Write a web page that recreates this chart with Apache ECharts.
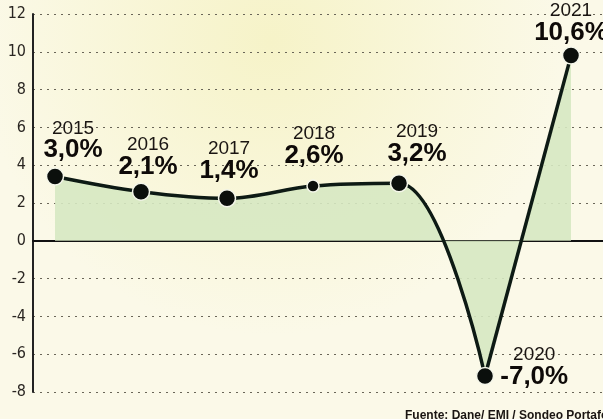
<!DOCTYPE html>
<html><head><meta charset="utf-8">
<script src="https://cdn.jsdelivr.net/npm/echarts@6/dist/echarts.min.js"></script>
<style>html,body{margin:0;padding:0;background:#fbf8e2}#c{width:603px;height:419px}</style>
</head><body><div id="c"></div>
<script>
// Data
const years = [2015, 2016, 2017, 2018, 2019, 2020, 2021];
const plotted = [3.4, 2.6, 2.25, 2.9, 3.05, -7.15, 9.8];   // positions as drawn
const labelTexts = ['3,0%', '2,1%', '1,4%', '2,6%', '3,2%', '-7,0%', '10,6%'];
const yTicks = [-8, -6, -4, -2, 0, 2, 4, 6, 8, 10, 12];
const source = 'Fuente: Dane/ EMI / Sondeo Portafolio';

// style only
const labelStyle = [
  {position: 'top', offset: [18, 0], distance: 5, align: 'center'},
  {position: 'top', offset: [7, 0], distance: 4, align: 'center'},
  {position: 'top', offset: [2, 0], distance: 6, align: 'center'},
  {position: 'top', offset: [1, 0], distance: 11, align: 'center'},
  {position: 'top', offset: [18, 0], distance: 8, align: 'center'},
  {position: 'right', offset: [0, -9], distance: 6, align: 'left'},
  {position: 'top', offset: [0, 0], distance: 2, align: 'center'}
];
const symbolSizes = [17, 17, 17, 12, 17, 17, 17];

const chart = echarts.init(document.getElementById('c'), null, {renderer: 'canvas'});
const pts = years.map((y, i) => [y, plotted[i]]);
const splitAt = 5; // smooth up to 2020, straight 2020 -> 2021

const data = years.map((y, i) => ({
  value: pts[i],
  symbolSize: symbolSizes[i],
  label: Object.assign({
    show: true,
    formatter: '{y|' + y + '}\n{v|' + labelTexts[i] + '}'
  }, labelStyle[i])
}));

const lineCol = '#0d1a14';
const areaCol = '#d6e8c2';

chart.setOption({
  backgroundColor: {
    type: 'radial', x: 0.45, y: 0.1, r: 0.7,
    colorStops: [{offset: 0, color: '#f6f3c8'}, {offset: 1, color: '#fbf9e8'}]
  },
  animation: false,
  grid: {left: 33, right: 0, top: 14, bottom: 27, containLabel: false},
  xAxis: {
    type: 'value', min: 2014.744, max: 2021.372,
    axisLine: {show: true, onZero: true, lineStyle: {color: '#111', width: 2}},
    axisTick: {show: false}, axisLabel: {show: false}, splitLine: {show: false}
  },
  yAxis: {
    type: 'value', min: yTicks[0], max: yTicks[yTicks.length - 1], interval: 2,
    axisLine: {show: true, lineStyle: {color: '#222', width: 2}},
    axisTick: {show: false},
    axisLabel: {color: '#2a2622', fontSize: 16, fontFamily: 'Liberation Sans Narrow, DejaVu Sans Condensed, sans-serif', margin: 7},
    splitLine: {show: true, lineStyle: {color: '#6a6658', width: 1.2, type: [2, 5]}}
  },
  series: [{
    type: 'line',
    data: pts.slice(0, splitAt + 1),
    smooth: 0.35,
    showSymbol: false,
    lineStyle: {color: lineCol, width: 3.5},
    areaStyle: {color: areaCol, opacity: 0.9, origin: 0},
    z: 2
  }, {
    type: 'line',
    data: pts.slice(splitAt),
    smooth: false,
    showSymbol: false,
    lineStyle: {color: lineCol, width: 3.5},
    areaStyle: {color: areaCol, opacity: 0.9, origin: 0},
    z: 2
  }, {
    type: 'scatter',
    data: data,
    symbol: 'circle',
    itemStyle: {color: '#0b0f0c', borderColor: '#f4f6ea', borderWidth: 1.5, opacity: 1},
    label: {
      opacity: 1,
      rich: {
        y: {fontFamily: 'Liberation Sans Narrow, sans-serif', fontSize: 19, color: '#1a1512', lineHeight: 20, align: 'center'},
        v: {fontFamily: 'Liberation Sans, Arial, sans-serif', fontWeight: 'bold', fontSize: 26, color: '#0e0a08', lineHeight: 24, align: 'center'}
      }
    },
    z: 3
  }],
  graphic: [{
    type: 'text', left: 405, top: 410,
    style: {text: source, font: 'bold 12px "Liberation Sans Narrow", sans-serif', fill: '#1a1512'}
  }]
});
</script></body></html>
